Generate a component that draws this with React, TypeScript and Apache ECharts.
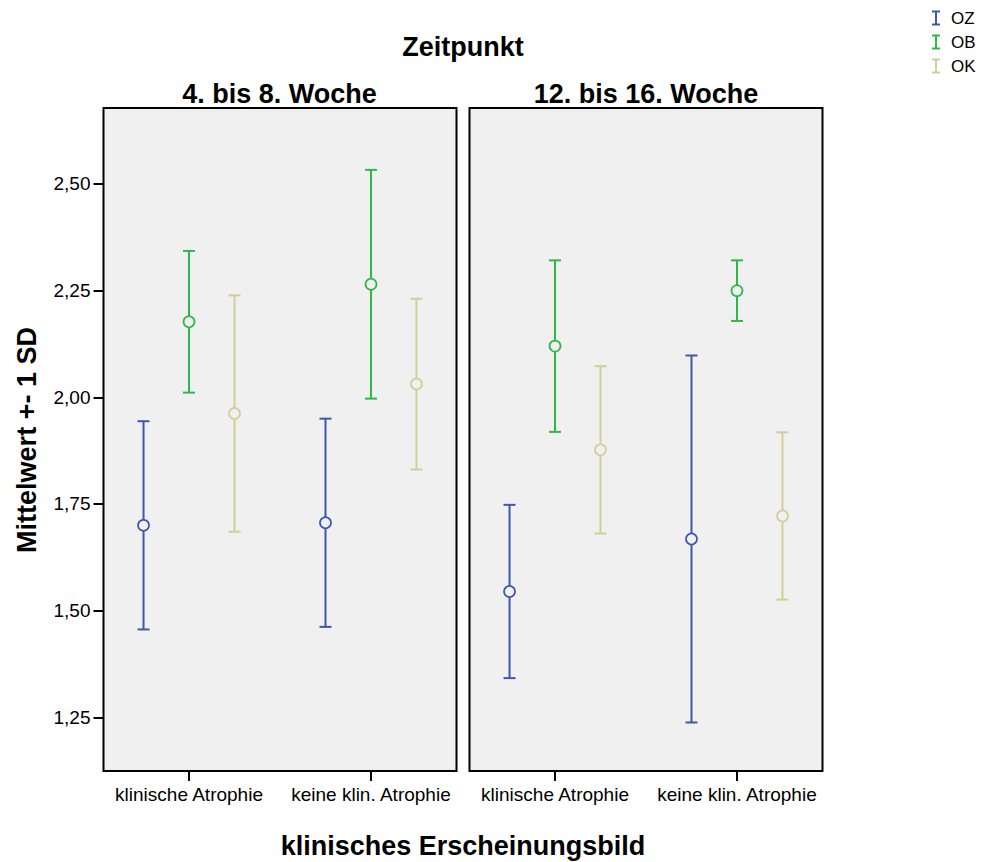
import React, { useEffect, useRef } from "react";
import * as echarts from "echarts";

const categories = ["klinische Atrophie", "keine klin. Atrophie"];
const panelTitles = ["4. bis 8. Woche", "12. bis 16. Woche"];
const seriesNames = ["OZ", "OB", "OK"];
const colors = ["#3E58AC", "#2EB848", "#D3CE97"];
const yTicks = [1.25, 1.5, 1.75, 2.0, 2.25, 2.5];

// [panel][category]
const ozMean = [[1.700, 1.706], [1.545, 1.668]];
const ozSD = [[0.244, 0.244], [0.203, 0.430]];
const obMean = [[2.177, 2.265], [2.120, 2.250]];
const obSD = [[0.166, 0.268], [0.201, 0.071]];
const okMean = [[1.962, 2.031], [1.877, 1.722]];
const okSD = [[0.277, 0.200], [0.196, 0.196]];

const means = [ozMean, obMean, okMean];
const sds = [ozSD, obSD, okSD];
const offsets = [-0.25, 0, 0.25];

const FONT = "'Liberation Sans', Arial, Helvetica, sans-serif";

export default function App() {
  const ref = useRef<HTMLDivElement>(null);
  useEffect(() => {
    if (!ref.current) return;
    const chart = echarts.init(ref.current, undefined, { renderer: "svg" });
    const yMin = 1.1243;
    const yMax = 2.678;
    const grids = [
      { left: 103.5, top: 108, width: 353, height: 663 },
      { left: 469.5, top: 108, width: 353, height: 663 },
    ].map((g) => ({
      ...g,
      show: true,
      backgroundColor: "#F0F0F0",
      borderColor: "#000",
      borderWidth: 2,
      containLabel: false,
    }));

    const xAxes = [0, 1].map((p) => ({
      type: "value",
      gridIndex: p,
      position: "bottom",
      min: -0.47,
      max: 1.47,
      axisLine: { show: false, onZero: false },
      splitLine: { show: false },
      axisTick: {
        show: true,
        customValues: [0, 1],
        length: 10,
        lineStyle: { color: "#000", width: 2 },
      },
      axisLabel: {
        show: true,
        customValues: [0, 1],
        formatter: (v: number) => categories[Math.round(v)] ?? "",
        color: "#000",
        fontSize: 19,
        fontFamily: FONT,
        margin: 14,
      },
    }));

    const yAxes = [0, 1].map((p) => ({
      type: "value",
      gridIndex: p,
      position: "left",
      min: yMin,
      max: yMax,
      axisLine: { show: false, onZero: false },
      splitLine: { show: false },
      axisTick: {
        show: p === 0,
        customValues: yTicks,
        length: 10,
        lineStyle: { color: "#000", width: 2 },
      },
      axisLabel: {
        show: p === 0,
        customValues: yTicks,
        formatter: (v: number) => v.toFixed(2).replace(".", ","),
        color: "#000",
        fontSize: 19,
        fontFamily: FONT,
        margin: 13,
      },
    }));

    const series: any[] = [];
    [0, 1].forEach((p) => {
      seriesNames.forEach((name, s) => {
        const color = colors[s];
        series.push({
          type: "custom",
          name,
          xAxisIndex: p,
          yAxisIndex: p,
          clip: false,
          encode: { x: 0, y: 1 },
          data: categories.map((_, i) => [i + offsets[s], means[s][p][i], sds[s][p][i]]),
          renderItem: (params: any, api: any) => {
            const x = api.value(0);
            const m = api.value(1);
            const sd = api.value(2);
            const c = api.coord([x, m]);
            const t = api.coord([x, m + sd]);
            const b = api.coord([x, m - sd]);
            const r = 5.5;
            const ls = { stroke: color, lineWidth: 2, fill: null };
            return {
              type: "group",
              children: [
                { type: "line", shape: { x1: c[0], y1: t[1], x2: c[0], y2: c[1] - r }, style: ls },
                { type: "line", shape: { x1: c[0], y1: c[1] + r, x2: c[0], y2: b[1] }, style: ls },
                { type: "line", shape: { x1: c[0] - 6, y1: t[1], x2: c[0] + 6, y2: t[1] }, style: ls },
                { type: "line", shape: { x1: c[0] - 6, y1: b[1], x2: c[0] + 6, y2: b[1] }, style: ls },
                {
                  type: "circle",
                  shape: { cx: c[0], cy: c[1], r },
                  style: { stroke: color, lineWidth: 1.7, fill: "none" },
                },
              ],
            };
          },
        });
      });
    });

    const boldText = (text: string, x: number, y: number, extra: any = {}) => ({
      type: "text",
      x,
      y,
      ...extra,
      style: {
        text,
        fill: "#000",
        font: `bold 27px ${FONT}`,
        textAlign: "center",
        textVerticalAlign: "middle",
      },
    });

    const legendItems: any[] = [];
    seriesNames.forEach((name, i) => {
      const yc = 18 + 24 * i;
      const xc = 936;
      const st = { stroke: colors[i], lineWidth: 2 };
      legendItems.push(
        { type: "line", shape: { x1: xc, y1: yc - 6.5, x2: xc, y2: yc + 6.5 }, style: st },
        { type: "line", shape: { x1: xc - 4, y1: yc - 6.5, x2: xc + 4, y2: yc - 6.5 }, style: st },
        { type: "line", shape: { x1: xc - 4, y1: yc + 6.5, x2: xc + 4, y2: yc + 6.5 }, style: st },
        {
          type: "text",
          x: 951,
          y: yc,
          style: {
            text: name,
            fill: "#000",
            font: `17px ${FONT}`,
            textAlign: "left",
            textVerticalAlign: "middle",
          },
        }
      );
    });

    chart.setOption({
      animation: false,
      backgroundColor: "#fff",
      grid: grids,
      xAxis: xAxes,
      yAxis: yAxes,
      series,
      graphic: [
        boldText("Zeitpunkt", 463, 47),
        boldText(panelTitles[0], 279.5, 94),
        boldText(panelTitles[1], 646, 94),
        boldText("klinisches Erscheinungsbild", 463, 846),
        boldText("Mittelwert +- 1 SD", 27, 440, { rotation: Math.PI / 2 }),
        ...legendItems,
      ],
    });
    return () => chart.dispose();
  }, []);
  return (
    <div
      ref={ref}
      style={{ position: "absolute", left: 0, top: 0, width: 981, height: 862 }}
    />
  );
}
